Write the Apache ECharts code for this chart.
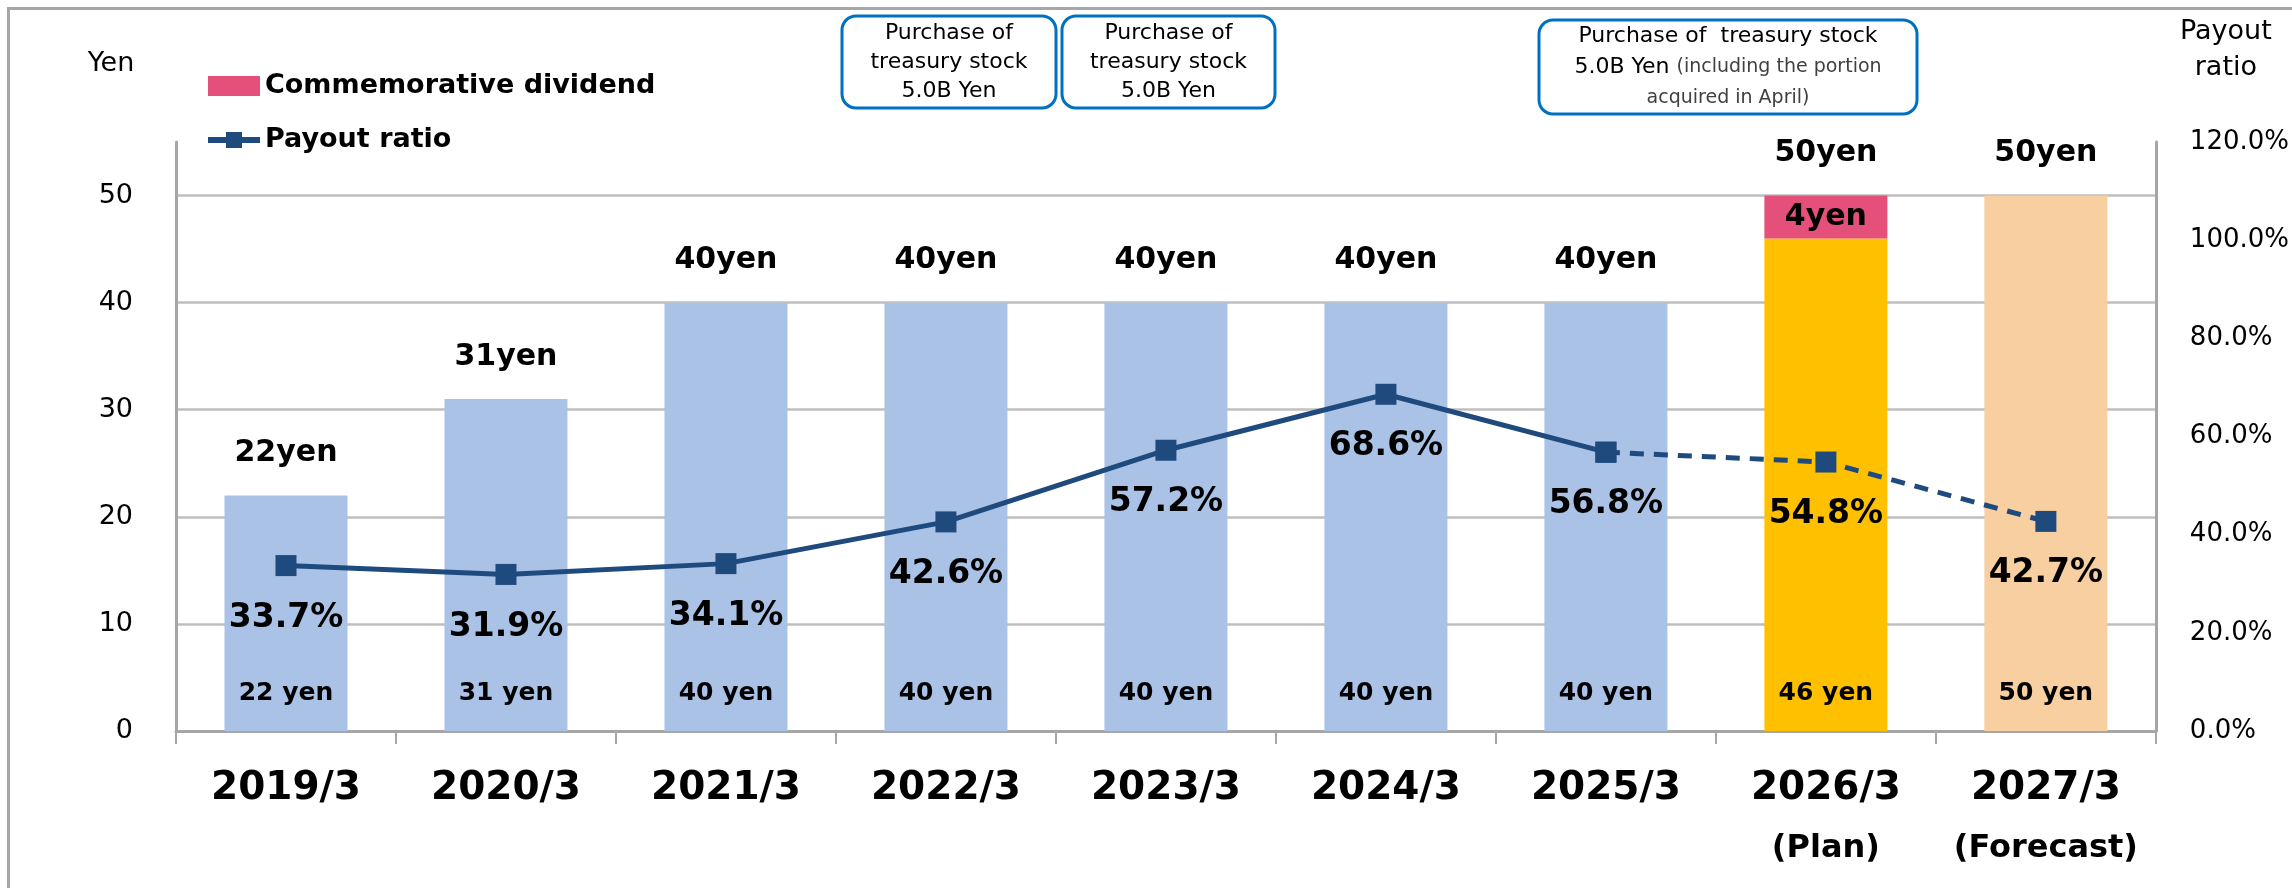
<!DOCTYPE html>
<html>
<head>
<meta charset="utf-8">
<script src="https://cdn.jsdelivr.net/npm/echarts@6/dist/echarts.min.js"></script>
<style>
  html, body { margin: 0; padding: 0; background: #fff; }
  #main { width: 2292px; height: 888px; }
</style>
</head>
<body>
<div id="main"></div>
<script>
// data
const categories = ['2019/3', '2020/3', '2021/3', '2022/3', '2023/3', '2024/3', '2025/3', '2026/3', '2027/3'];
const periodNotes = ['', '', '', '', '', '', '', '(Plan)', '(Forecast)'];
const ordinaryDividend = [22, 31, 40, 40, 40, 40, 40, 46, 50];
const commemorativeDividend = ['-', '-', '-', '-', '-', '-', '-', 4, '-'];
const totalDividend = [22, 31, 40, 40, 40, 40, 40, 50, 50];
const payoutActual = [33.7, 31.9, 34.1, 42.6, 57.2, 68.6, 56.8, '-', '-'];
const payoutPlan = ['-', '-', '-', '-', '-', '-', 56.8, 54.8, 42.7];

// styling
const FONT = 'DejaVu Sans';
const barColors = ['#A9C2E6', '#A9C2E6', '#A9C2E6', '#A9C2E6', '#A9C2E6', '#A9C2E6', '#A9C2E6', '#FFC000', '#F8CFA0'];
const lineColor = '#1F4A7E';
const axisGray = '#A6A6A6';

let chart = echarts.init(document.getElementById('main'));

function box(x, y, w, h, text, lineHeight) {
  return {
    type: 'group',
    children: [{
      type: 'rect',
      shape: { x: x, y: y, width: w, height: h, r: 14 },
      style: { fill: '#fff', stroke: '#0070C0', lineWidth: 3 }
    }, {
      type: 'text',
      x: x + w / 2,
      y: y + h / 2,
      style: {
        text: text,
        fontFamily: FONT,
        fontSize: 22,
        lineHeight: lineHeight,
        fill: '#000',
        align: 'center',
        verticalAlign: 'middle',
        rich: {
          s: { fontFamily: FONT, fontSize: 19, fill: '#404040', lineHeight: lineHeight }
        }
      }
    }]
  };
}

let option = {
  backgroundColor: '#fff',
  animation: false,
  textStyle: { fontFamily: FONT },
  grid: { left: 176, right: 126, top: 142, bottom: 157 },
  legend: {
    orient: 'vertical',
    left: 200,
    top: 66,
    itemWidth: 52,
    itemHeight: 20,
    itemGap: 24,
    data: [
      { name: 'Commemorative dividend', icon: 'rect' },
      { name: 'Payout ratio', lineStyle: { width: 6 } }
    ],
    textStyle: { fontFamily: FONT, fontSize: 27, fontWeight: 'bold', color: '#000', lineHeight: 30 }
  },
  graphic: [
    {
      type: 'rect',
      z: -10,
      shape: { x: 8.5, y: 8.5, width: 2400, height: 1000 },
      style: { fill: 'none', stroke: axisGray, lineWidth: 3 }
    },
    box(842, 16, 214, 92, 'Purchase of\ntreasury stock\n5.0B Yen', 29),
    box(1062, 16, 213, 92, 'Purchase of\ntreasury stock\n5.0B Yen', 29),
    box(1539, 20, 378, 94, 'Purchase of  treasury stock\n5.0B Yen {s|(including the portion}\n{s|acquired in April)}', 31)
  ],
  xAxis: {
    type: 'category',
    data: categories,
    boundaryGap: true,
    axisLine: { lineStyle: { color: axisGray, width: 3 } },
    axisTick: { show: true, alignWithLabel: false, length: 13, lineStyle: { color: axisGray, width: 2 } },
    axisLabel: {
      margin: 28,
      formatter: (v, i) => periodNotes[i] ? '{y|' + v + '}\n{n|' + periodNotes[i] + '}' : '{y|' + v + '}',
      rich: {
        y: { fontFamily: FONT, fontSize: 39, fontWeight: 'bold', color: '#000', lineHeight: 60 },
        n: { fontFamily: FONT, fontSize: 32, fontWeight: 'bold', color: '#000', lineHeight: 60 }
      }
    }
  },
  yAxis: [{
    type: 'value',
    min: 0,
    max: 55,
    interval: 10,
    name: 'Yen',
    nameLocation: 'end',
    nameGap: 78,
    nameTextStyle: { fontFamily: FONT, fontSize: 27, color: '#000', align: 'center', verticalAlign: 'middle', padding: [0, 130, 0, 0] },
    axisLine: { show: true, lineStyle: { color: axisGray, width: 3 } },
    axisTick: { show: false },
    axisLabel: { fontFamily: FONT, fontSize: 27, color: '#000', margin: 43, showMaxLabel: false },
    splitLine: { show: true, showMaxLine: false, lineStyle: { color: '#BFBFBF', width: 2.5 } }
  }, {
    type: 'value',
    min: 0,
    max: 120,
    interval: 20,
    name: 'Payout\nratio',
    nameLocation: 'end',
    nameGap: 92,
    nameTextStyle: { fontFamily: FONT, fontSize: 27, color: '#000', lineHeight: 36, align: 'center', verticalAlign: 'middle', padding: [0, 0, 0, 140] },
    axisLine: { show: true, lineStyle: { color: axisGray, width: 3 } },
    axisTick: { show: false },
    axisLabel: { fontFamily: FONT, fontSize: 26, color: '#000', margin: 34, formatter: v => v.toFixed(1) + '%' },
    splitLine: { show: false }
  }],
  series: [{
    name: 'Dividend',
    type: 'bar',
    stack: 'dividend',
    barWidth: 123,
    data: ordinaryDividend.map((v, i) => ({ value: v, itemStyle: { color: barColors[i] } })),
    label: {
      show: true,
      position: 'insideBottom',
      distance: 25,
      formatter: '{c} yen',
      fontFamily: FONT,
      fontSize: 25,
      fontWeight: 'bold',
      color: '#000',
      lineHeight: 26
    },
    z: 2
  }, {
    name: 'Commemorative dividend',
    type: 'bar',
    stack: 'dividend',
    barWidth: 123,
    data: commemorativeDividend,
    itemStyle: { color: '#E5507A' },
    label: {
      show: true,
      position: 'inside',
      formatter: '{c}yen',
      fontFamily: FONT,
      fontSize: 30,
      fontWeight: 'bold',
      color: '#000'
    },
    z: 2
  }, {
    name: 'Total',
    type: 'bar',
    barWidth: 123,
    barGap: '-100%',
    data: totalDividend,
    silent: true,
    itemStyle: { color: 'rgba(0,0,0,0)' },
    label: {
      show: true,
      position: 'top',
      distance: 27,
      formatter: '{c}yen',
      fontFamily: FONT,
      fontSize: 30,
      fontWeight: 'bold',
      color: '#000',
      lineHeight: 30
    },
    z: 1
  }, {
    name: 'Payout ratio',
    type: 'line',
    yAxisIndex: 1,
    data: payoutActual,
    symbol: 'rect',
    symbolSize: 21,
    itemStyle: { color: lineColor },
    lineStyle: { color: lineColor, width: 5 },
    label: {
      show: true,
      position: 'bottom',
      distance: 25,
      formatter: '{c}%',
      fontFamily: FONT,
      fontSize: 33,
      fontWeight: 'bold',
      color: '#000',
      lineHeight: 34
    },
    z: 5
  }, {
    name: 'Payout ratio',
    type: 'line',
    yAxisIndex: 1,
    data: payoutPlan.map((v, i) => i === 6 ? { value: v, label: { show: false } } : v),
    symbol: 'rect',
    symbolSize: 21,
    itemStyle: { color: lineColor },
    lineStyle: { color: lineColor, width: 5, type: [14, 10] },
    label: {
      show: true,
      position: 'bottom',
      distance: 25,
      formatter: '{c}%',
      fontFamily: FONT,
      fontSize: 33,
      fontWeight: 'bold',
      color: '#000',
      lineHeight: 34
    },
    z: 5
  }]
};

chart.setOption(option);
</script>
</body>
</html>
